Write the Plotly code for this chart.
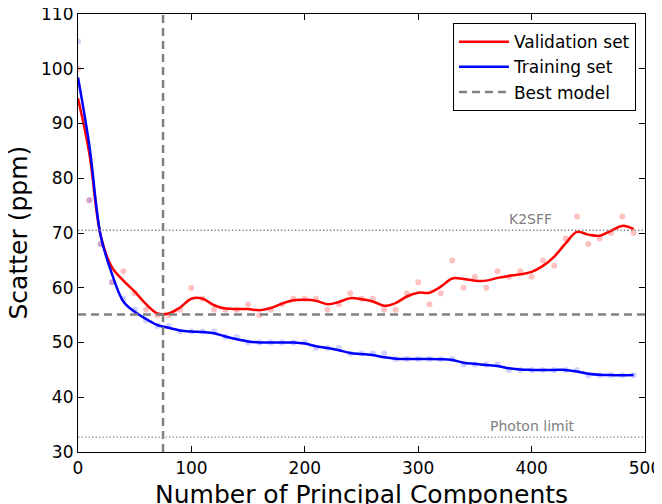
import plotly.graph_objects as go

# number of principal components (x positions)
n_components = list(range(0, 500, 10))

# raw scatter per model (ppm)
validation_pts = [100, 76, 68, 61, 63, 59, 56, 55, 55, 56,
                  60, 58, 56, 56, 56, 57, 55, 56, 57, 58,
                  58, 58, 56, 57, 59, 58, 58, 56, 56, 59,
                  61, 57, 59, 65, 60, 62, 60, 63, 62, 63,
                  62, 65, 64, 69, 73, 68, 69, 70, 73, 70]
training_pts = [105, 76, 68, 61, 58, 56, 54, 53, 53, 52,
                52, 52, 52, 51, 51, 50, 50, 50, 50, 50,
                50, 49, 49, 49, 48, 48, 48, 48, 47, 47,
                47, 47, 47, 47, 46, 46, 46, 46, 45, 45,
                45, 45, 45, 45, 45, 44, 44, 44, 44, 44]

# smoothed curves (ppm)
validation_smooth = [94.6, 84.5, 69.5, 63.7, 61.3, 59.3, 57.0, 55.3, 55.3, 56.4,
                     58.0, 58.0, 56.8, 56.2, 56.1, 56.1, 55.9, 56.3, 57.1, 57.7,
                     57.8, 57.6, 57.0, 57.4, 58.1, 57.9, 57.5, 56.7, 57.2, 58.4,
                     59.1, 59.1, 60.2, 61.7, 61.6, 61.3, 61.3, 61.8, 62.15, 62.45,
                     62.9, 64.0, 65.7, 68.1, 70.2, 69.7, 69.5, 70.4, 71.3, 70.7]
training_smooth = [98.4, 86.0, 69.5, 62.5, 57.5, 55.6, 54.3, 53.2, 52.7, 52.2,
                   52.0, 51.9, 51.7, 51.1, 50.6, 50.2, 50.0, 50.0, 50.0, 50.0,
                   49.8, 49.3, 49.0, 48.6, 48.1, 47.9, 47.7, 47.3, 47.05, 47.0,
                   47.0, 47.0, 46.95, 46.8, 46.3, 46.1, 45.9, 45.7, 45.3, 45.05,
                   45.0, 45.0, 45.0, 45.0, 44.7, 44.3, 44.1, 44.05, 44.0, 44.05]

best_n = 75
best_scatter = 55.1
k2sff_level = 70.5
photon_limit = 32.7

FONT = "DejaVu Sans"
DASH = "8px,5px"
DOT = "1.3px,2.2px"

fig = go.Figure()

fig.add_trace(go.Scatter(x=n_components, y=validation_pts, mode='markers',
                         marker=dict(color='rgba(255,0,0,0.24)', size=6),
                         showlegend=False, hoverinfo='skip'))
fig.add_trace(go.Scatter(x=n_components, y=training_pts, mode='markers',
                         marker=dict(color='rgba(0,0,255,0.18)', size=6),
                         showlegend=False, hoverinfo='skip'))

fig.add_trace(go.Scatter(x=n_components, y=validation_smooth, mode='lines',
                         line=dict(color='red', width=2.5, shape='spline'),
                         name='Validation set'))
fig.add_trace(go.Scatter(x=n_components, y=training_smooth, mode='lines',
                         line=dict(color='blue', width=2.5, shape='spline'),
                         name='Training set'))
# legend entry only
fig.add_trace(go.Scatter(x=[None], y=[None], mode='lines',
                         line=dict(color='gray', width=2.5, dash=DASH),
                         name='Best model'))

fig.add_hline(y=best_scatter, line=dict(color='gray', width=2.5, dash=DASH))
fig.add_vline(x=best_n, line=dict(color='gray', width=2.5, dash=DASH))
fig.add_hline(y=k2sff_level, line=dict(color='gray', width=1.3, dash=DOT))
fig.add_hline(y=photon_limit, line=dict(color='gray', width=1.3, dash=DOT))

fig.add_annotation(x=420, y=k2sff_level, text='K2SFF', showarrow=False,
                   xanchor='right', yanchor='bottom', yshift=1,
                   font=dict(family=FONT, size=14, color='gray'))
fig.add_annotation(x=440, y=photon_limit, text='Photon limit', showarrow=False,
                   xanchor='right', yanchor='bottom', yshift=1,
                   font=dict(family=FONT, size=14, color='gray'))

# axis titles placed as annotations for exact positioning
fig.add_annotation(x=0.5, y=0, xref='paper', yref='paper', text='Number of Principal Components',
                   showarrow=False, xanchor='center', yanchor='top', yshift=-26,
                   font=dict(family=FONT, size=25, color='black'))
fig.add_annotation(x=0, y=0.5, xref='paper', yref='paper', text='Scatter (ppm)',
                   showarrow=False, xanchor='right', yanchor='middle', xshift=-44,
                   textangle=-90, font=dict(family=FONT, size=25, color='black'))

axis_style = dict(showgrid=False, zeroline=False, showline=True, linecolor='black',
                  linewidth=1.2, mirror='ticks', ticks='inside', ticklen=6,
                  tickcolor='black', automargin=False, ticklabeloverflow='allow',
                  tickfont=dict(family=FONT, size=17, color='black'))

# page body adds an 8px offset, so the figure is 8px smaller than the window
fig.update_layout(
    width=654, height=496,
    margin=dict(l=70, r=17, t=6, b=52),
    plot_bgcolor='white', paper_bgcolor='white',
    font=dict(family=FONT, color='black'),
    xaxis=dict(range=[0, 500], dtick=100, **axis_style),
    yaxis=dict(range=[30, 110], dtick=10, **axis_style),
    legend=dict(x=0.984, y=0.979, xanchor='right', yanchor='top',
                bordercolor='black', borderwidth=1, bgcolor='white',
                font=dict(family=FONT, size=17), itemwidth=50),
)

fig.write_html("out.html")
